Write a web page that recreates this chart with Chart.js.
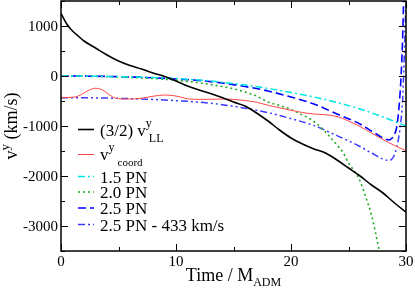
<!DOCTYPE html>
<html><head><meta charset="utf-8">
<script src="https://cdn.jsdelivr.net/npm/chart.js@4/dist/chart.umd.min.js"></script>
<style>html,body{margin:0;padding:0;background:#fff;}canvas{display:block;}
#probe{position:absolute;left:-1000px;top:0;font-family:"Liberation Serif";font-size:15px;}</style>
</head><body>
<canvas id="c" width="415" height="288"></canvas>
<span id="probe">Time 0123</span>
<script>
// ---- data ----
const tLL = [0,0.5,1,1.5,2,3,4,5,6,7,8,9,10,11,12,13,14,15,16,17,18,19,20,21,22,23,24,25,26,27,28,29,30];
const vLL = [1250,1040,900,800,700,560,420,300,210,140,60,-10,-100,-200,-280,-350,-430,-520,-600,-740,-900,-1080,-1240,-1360,-1460,-1540,-1680,-1840,-2000,-2180,-2340,-2540,-2720];

const tCoord = [0,1,1.5,2,2.5,3,3.5,4,4.5,5,6,7,8,9,10,11,12,13,14,15,16,17,18,19,20,21,22,23,24,25,26,27,28,29,30];
const vCoord = [-430,-425,-400,-340,-275,-245,-265,-340,-420,-455,-460,-445,-405,-380,-400,-455,-468,-465,-460,-468,-490,-525,-585,-635,-685,-730,-760,-775,-810,-900,-1010,-1140,-1270,-1390,-1490];

const t15 = [0,2,4,6,8,10,12,14,16,18,20,22,24,26,28,29,30];
const v15 = [0,-3,-8,-18,-30,-50,-80,-125,-180,-250,-330,-420,-530,-660,-820,-910,-1000];

const t20 = [0,2,4,6,8,10,12,14,15,16,17,18,19,20,21,22,23,24,24.5,25,25.5,26,26.5,27,27.5,27.8];
const v20 = [0,-5,-12,-28,-50,-85,-135,-210,-255,-320,-400,-520,-590,-670,-780,-910,-1120,-1380,-1520,-1740,-1900,-2100,-2420,-2780,-3300,-3650];

const t25 = [0,2,4,6,8,10,12,14,16,18,20,22,24,26,27,28,28.5,28.8,29,29.2,29.4,29.55,29.7,29.8];
const v25 = [0,-3,-8,-20,-35,-60,-90,-140,-210,-300,-420,-560,-760,-960,-1100,-1240,-1280,-1240,-1170,-1010,-600,-100,700,1600];

const t25m = [0,2,4,6,8,10,12,14,16,18,20,22,24,26,27,28,28.5,28.9,29.2,29.5,29.7,29.85,30];
const v25m = [-433,-436,-441,-453,-468,-493,-523,-573,-643,-733,-853,-993,-1193,-1410,-1540,-1660,-1690,-1620,-1420,-1013,-500,400,1600];

const xTicks = [0,10,20,30];
const xMinor = [5,15,25];
const yTicks = [-3000,-2000,-1000,0,1000];
const yMinor = [-3500,-2500,-1500,-500,500,1500];

const pts = (t,v) => t.map((x,i)=>({x:x,y:v[i]}));
const SERIF = "'Liberation Serif', 'Times New Roman', serif";
const F = (size) => 'normal normal 400 ' + size + 'px ' + SERIF;

function ds(t,v,color,dash,w){
  return {data:pts(t,v),borderColor:color,borderDash:dash,borderWidth:w,pointRadius:0,
          fill:false,cubicInterpolationMode:'monotone',borderCapStyle:'butt'};
}

const legendItems = [
  {color:'#000000',dash:[],w:1.6},
  {color:'#ff4848',dash:[],w:1},
  {color:'#00e5e5',dash:[7,3,2,3],w:1.5},
  {color:'#22aa22',dash:[2,3],w:1.6},
  {color:'#0000ff',dash:[8,4],w:1.6},
  {color:'#3a3aff',dash:[7,3,2,3,2,3],w:1.5}
];

function segs(ctx,list,x,y){
  let cx=x;
  for(const s of list){
    ctx.font = F(s.size);
    ctx.fillText(s.t, cx, y+(s.dy||0));
    cx += ctx.measureText(s.t).width;
  }
  return cx;
}

const framePlugin = {
  id:'frame',
  afterDraw(chart){
    const ctx = chart.ctx, a = chart.chartArea;
    const xs = chart.scales.x, ys = chart.scales.y;
    ctx.save();
    ctx.strokeStyle='#000'; ctx.lineWidth=1.5;
    ctx.strokeRect(a.left, a.top, a.right-a.left, a.bottom-a.top);
    ctx.lineWidth=1;
    const M=7, m=4;
    ctx.beginPath();
    for(const v of xTicks){const p=Math.round(xs.getPixelForValue(v))+0.5;
      ctx.moveTo(p,a.bottom);ctx.lineTo(p,a.bottom-M);ctx.moveTo(p,a.top);ctx.lineTo(p,a.top+M);}
    for(const v of xMinor){const p=Math.round(xs.getPixelForValue(v))+0.5;
      ctx.moveTo(p,a.bottom);ctx.lineTo(p,a.bottom-m);ctx.moveTo(p,a.top);ctx.lineTo(p,a.top+m);}
    for(const v of yTicks){const p=Math.round(ys.getPixelForValue(v))+0.5;
      ctx.moveTo(a.left,p);ctx.lineTo(a.left+M,p);ctx.moveTo(a.right,p);ctx.lineTo(a.right-M,p);}
    for(const v of yMinor){const p=Math.round(ys.getPixelForValue(v))+0.5;
      ctx.moveTo(a.left,p);ctx.lineTo(a.left+m,p);ctx.moveTo(a.right,p);ctx.lineTo(a.right-m,p);}
    ctx.stroke();

    // tick labels
    ctx.fillStyle='#000';
    ctx.font=F(15);
    ctx.textAlign='center'; ctx.textBaseline='alphabetic';
    for(const v of xTicks){ctx.fillText(String(v), xs.getPixelForValue(v), 266);}
    ctx.textAlign='right'; ctx.textBaseline='middle';
    for(const v of yTicks){ctx.fillText(String(v), a.left-3, ys.getPixelForValue(v)+1);}

    // x title
    ctx.textAlign='left'; ctx.textBaseline='alphabetic';
    ctx.font=F(18); const w1=ctx.measureText('Time / M').width;
    ctx.font=F(12); const w2=ctx.measureText('ADM').width;
    const cx=(a.left+a.right)/2 - (w1+w2)/2;
    segs(ctx,[{t:'Time / M',size:18},{t:'ADM',size:12,dy:5}],cx,281);

    // y title (rotated)
    ctx.save();
    ctx.translate(17, (a.top+a.bottom)/2);
    ctx.rotate(-Math.PI/2);
    ctx.font=F(18); const wa=ctx.measureText('v').width, wc=ctx.measureText(' (km/s)').width;
    ctx.font=F(13); const wb=ctx.measureText('y').width;
    const tot=wa+wb+wc;
    segs(ctx,[{t:'v',size:18},{t:'y',size:13,dy:-8},{t:' (km/s)',size:18}],-tot/2,0);
    ctx.restore();

    // legend
    const ly=[129.5,154.5,176.5,192,208,224.5];
    for(let i=0;i<6;i++){
      const it=legendItems[i];
      ctx.strokeStyle=it.color; ctx.lineWidth=it.w; ctx.setLineDash(it.dash);
      ctx.beginPath(); ctx.moveTo(78,ly[i]); ctx.lineTo(94,ly[i]); ctx.stroke();
    }
    ctx.setLineDash([]);
    ctx.fillStyle='#000'; ctx.textAlign='left';
    let e = segs(ctx,[{t:'(3/2) v',size:17}],100,ly[0]+6);
    segs(ctx,[{t:'y',size:12,dy:-9}],e,ly[0]+6);
    segs(ctx,[{t:'LL',size:12,dy:6}],e+3,ly[0]+6);
    e = segs(ctx,[{t:'v',size:17}],100,ly[1]+5);
    segs(ctx,[{t:'y',size:12,dy:-9}],e,ly[1]+5);
    segs(ctx,[{t:'coord',size:11,dy:6}],e+9,ly[1]+5);
    const labs=['1.5 PN','2.0 PN','2.5 PN','2.5 PN - 433 km/s'];
    for(let i=0;i<4;i++){segs(ctx,[{t:labs[i],size:17}],100,ly[i+2]+6);}
    ctx.restore();
  }
};

function build(){
  new Chart(document.getElementById('c'),{
    type:'line',
    data:{datasets:[
      ds(tLL,vLL,legendItems[0].color,legendItems[0].dash,legendItems[0].w),
      ds(tCoord,vCoord,legendItems[1].color,legendItems[1].dash,legendItems[1].w),
      ds(t15,v15,legendItems[2].color,legendItems[2].dash,legendItems[2].w),
      ds(t20,v20,legendItems[3].color,legendItems[3].dash,legendItems[3].w),
      ds(t25,v25,legendItems[4].color,legendItems[4].dash,legendItems[4].w),
      ds(t25m,v25m,legendItems[5].color,legendItems[5].dash,legendItems[5].w)
    ]},
    options:{
      responsive:false, animation:false, devicePixelRatio:1,
      layout:{padding:{top:1,right:9,left:0,bottom:0}},
      plugins:{legend:{display:false},tooltip:{enabled:false}},
      scales:{
        x:{type:'linear',min:0,max:30,grid:{display:false},border:{display:false},
           ticks:{display:false},afterFit:s=>{s.height=37;}},
        y:{type:'linear',min:-3500,max:1500,grid:{display:false},border:{display:false},
           ticks:{display:false},afterFit:s=>{s.width=61;}}
      }
    },
    plugins:[framePlugin]
  });
}
if (document.fonts && document.fonts.load) {
  Promise.all([document.fonts.load("15px 'Liberation Serif'"), document.fonts.load("15px 'Times New Roman'")])
    .then(build, build);
} else { build(); }
</script>
</body></html>
